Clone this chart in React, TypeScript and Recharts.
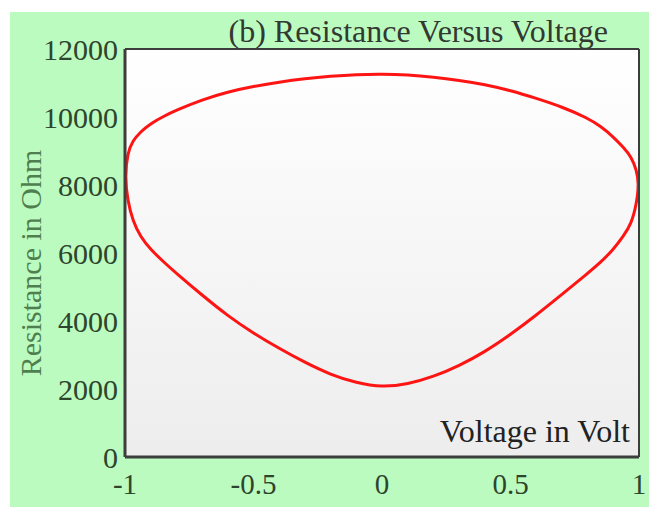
import { LineChart, Line, XAxis, YAxis, CartesianGrid, Label } from 'recharts';

// one closed sweep of the memristor loop: lower branch 0 -> -1, upper branch -1 -> 1, lower branch 1 -> 0
const loopVoltage = [
  0, -0.1, -0.2, -0.3, -0.4, -0.5, -0.6, -0.7, -0.8, -0.85, -0.9, -0.94, -0.97, -0.99, -1,
  -0.99, -0.97, -0.94, -0.9, -0.85, -0.8, -0.7, -0.6, -0.5, -0.4, -0.3, -0.2, -0.1, 0,
  0.1, 0.2, 0.3, 0.4, 0.5, 0.6, 0.7, 0.8, 0.85, 0.9, 0.94, 0.97, 0.99, 1,
  0.99, 0.97, 0.94, 0.9, 0.85, 0.8, 0.7, 0.6, 0.5, 0.4, 0.3, 0.2, 0.1,
];
const loopResistance = [
  2050, 2180, 2420, 2780, 3190, 3640, 4150, 4760, 5400, 5740, 6100, 6480, 6950, 7550, 8250,
  8950, 9300, 9560, 9810, 10020, 10200, 10510, 10740, 10900, 11030, 11130, 11200, 11250, 11265,
  11240, 11175, 11080, 10960, 10780, 10550, 10300, 9970, 9730, 9420, 9100, 8830, 8450, 8050,
  7420, 6860, 6500, 6100, 5720, 5400, 4780, 4170, 3600, 3090, 2680, 2360, 2140,
];

const voltageTicks = [-1, -0.5, 0, 0.5, 1];
const innerVoltageTicks = [-0.5, 0, 0.5];
const resistanceTicks = [0, 2000, 4000, 6000, 8000, 10000, 12000];
const innerResistanceTicks = [2000, 4000, 6000, 8000, 10000];

const chartTitle = '(b) Resistance Versus Voltage';
const xTitle = 'Voltage in Volt';
const yTitle = 'Resistance in Ohm';

const data = loopVoltage.map((v, i) => ({ v, r: loopResistance[i] }));

const SERIF = '"Liberation Serif", "Times New Roman", serif';
const FRAME = '#3d3d3d';
const RED_TICK = '#f07878';
const tickStyle = { fill: '#2d452d', fontSize: 29, fontFamily: SERIF };

const renderTitle = ({ viewBox }: any) => (
  <text
    x={viewBox.x + viewBox.width - 31}
    y={37 - 7}
    textAnchor="end"
    fill="#323832"
    fontSize={32}
    fontFamily={SERIF}
  >
    {chartTitle}
  </text>
);

const renderXTitle = ({ viewBox }: any) => (
  <text
    x={viewBox.x + viewBox.width - 9}
    y={viewBox.y - 15}
    textAnchor="end"
    fill="#222"
    fontSize={32}
    fontFamily={SERIF}
  >
    {xTitle}
  </text>
);

const renderYTitle = ({ viewBox }: any) => {
  const cx = viewBox.x + 20;
  const cy = viewBox.y + viewBox.height / 2 + 10;
  return (
    <text
      x={cx}
      y={cy}
      transform={`rotate(-90 ${cx} ${cy})`}
      textAnchor="middle"
      dominantBaseline="central"
      fill="#4f7f4f"
      fontSize={30}
      fontFamily={SERIF}
    >
      {yTitle}
    </text>
  );
};

export default function App() {
  return (
    <div
      style={{
        position: 'absolute',
        left: 10,
        top: 12,
        width: 639,
        height: 495,
        background: '#bcfbbf',
      }}
    >
      <LineChart width={639} height={495} data={data} margin={{ top: 37, right: 10, left: 0, bottom: 0 }}>
        <defs>
          <linearGradient id="plotShade" x1="0" y1="0" x2="0" y2="1">
            <stop offset="0%" stopColor="#ffffff" />
            <stop offset="100%" stopColor="#ededed" />
          </linearGradient>
        </defs>
        <CartesianGrid horizontal={false} vertical={false} fill="url(#plotShade)" />

        {/* bottom axis with labels */}
        <XAxis
          dataKey="v"
          type="number"
          domain={[-1, 1]}
          allowDataOverflow
          ticks={voltageTicks}
          height={50}
          tickSize={0}
          tickMargin={16}
          tickLine={false}
          axisLine={{ stroke: FRAME, strokeWidth: 3 }}
          tick={tickStyle}
        >
          <Label content={renderXTitle} />
        </XAxis>
        {/* inward tick marks on the bottom edge */}
        <XAxis
          xAxisId="bottomInner"
          type="number"
          domain={[-1, 1]}
          allowDataOverflow
          ticks={innerVoltageTicks}
          mirror
          height={1}
          tick={false}
          tickSize={6}
          tickLine={{ stroke: FRAME, strokeWidth: 2 }}
          axisLine={false}
        />
        {/* top frame edge */}
        <XAxis
          xAxisId="top"
          orientation="top"
          type="number"
          domain={[-1, 1]}
          allowDataOverflow
          ticks={innerVoltageTicks}
          mirror
          height={1}
          tick={false}
          tickSize={6}
          tickLine={{ stroke: FRAME, strokeWidth: 2 }}
          axisLine={{ stroke: FRAME, strokeWidth: 2 }}
        >
          <Label content={renderTitle} />
        </XAxis>

        <YAxis
          type="number"
          domain={[0, 12000]}
          allowDataOverflow
          ticks={resistanceTicks}
          width={115}
          tickSize={0}
          tickMargin={7}
          tickLine={false}
          axisLine={{ stroke: FRAME, strokeWidth: 3 }}
          tick={{ ...tickStyle, fontSize: 30 }}
        >
          <Label content={renderYTitle} />
        </YAxis>
        <YAxis
          yAxisId="leftInner"
          type="number"
          domain={[0, 12000]}
          allowDataOverflow
          ticks={innerResistanceTicks}
          mirror
          width={1}
          tick={false}
          tickSize={5}
          tickLine={{ stroke: RED_TICK, strokeWidth: 2 }}
          axisLine={false}
        />
        <YAxis
          yAxisId="right"
          orientation="right"
          type="number"
          domain={[0, 12000]}
          allowDataOverflow
          ticks={innerResistanceTicks}
          mirror
          width={1}
          tick={false}
          tickSize={5}
          tickLine={{ stroke: RED_TICK, strokeWidth: 2 }}
          axisLine={{ stroke: FRAME, strokeWidth: 2 }}
        />

        <Line
          dataKey="r"
          type="basisClosed"
          stroke="#ff1414"
          strokeWidth={3}
          dot={false}
          isAnimationActive={false}
        />
      </LineChart>
    </div>
  );
}
